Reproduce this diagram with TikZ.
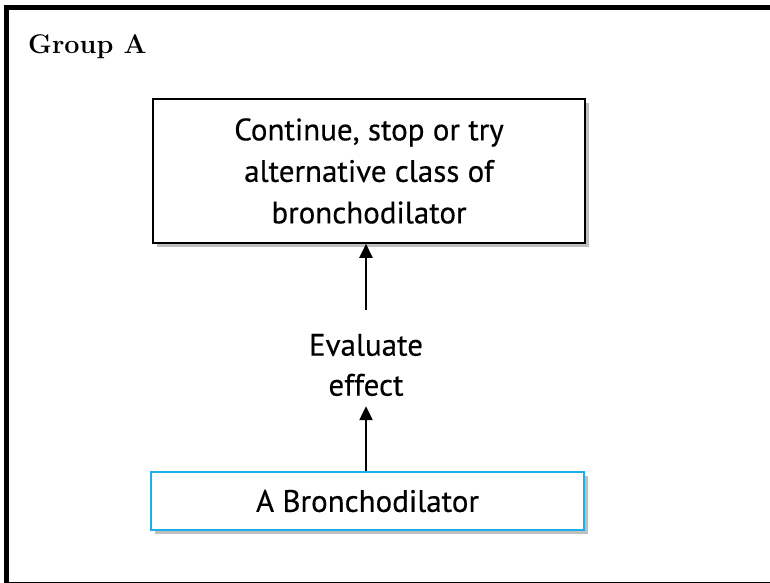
\documentclass[tikz,border=0pt]{standalone}
\usepackage{fontspec}
\setsansfont{PT Sans}[FakeBold=0.4]
\usetikzlibrary{positioning, arrows.meta, shadows}
\definecolor{bronchoblue}{RGB}{28,174,230}
\tikzset{outerframe/.style={draw, line width=5.6pt}}
\tikzset{grouplabel/.style={anchor=base west, inner sep=0pt, font=\bfseries\fontsize{27}{30}\selectfont}}
\tikzset{stepbox/.style={draw, line width=1.6pt, fill=white, align=center, minimum width=432pt, minimum height=144pt, font=\sffamily\fontsize{31}{41.5}\selectfont, drop shadow={shadow xshift=3.5pt, shadow yshift=-3.5pt, opacity=0.5}}}
\tikzset{drugbox/.style={stepbox, draw=bronchoblue, minimum width=433pt, minimum height=58pt}}
\tikzset{evaltext/.style={align=center, inner sep=2pt, font=\sffamily\fontsize{31}{40}\selectfont}}
\tikzset{arr/.style={draw, -{Triangle[length=14pt, width=13pt]}, line width=2.5pt}}

\begin{document}
\begin{tikzpicture}[x=1pt, y=-1pt]
	\useasboundingbox (0,0) rectangle (770,582);
	\draw[outerframe] (6.3,7.6) rectangle (800,584.6);
	\node[grouplabel] (grp) at (28,53) {Group A};
	%
	\node[stepbox] (cont) at (369,171) {Continue, stop or try\\alternative class of\\bronchodilator};
	\node[evaltext] (eval) at (366,365) {Evaluate\\effect};
	\node[drugbox] (drug) at (367.5,501) {A Bronchodilator};
	%
	\draw[arr, shorten >=8pt] (drug.north -| eval) -- (eval.south);
	\draw[arr, shorten <=22pt] (eval.north) -- (cont.south -| eval);
\end{tikzpicture}
\end{document}
